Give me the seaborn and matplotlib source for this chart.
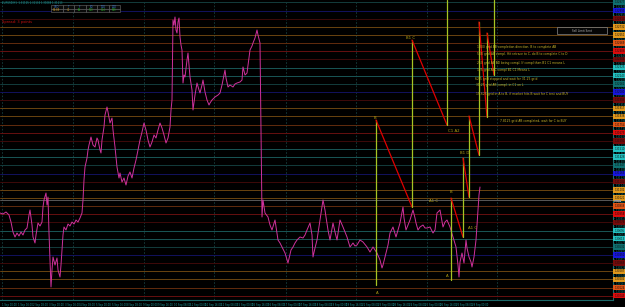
import numpy as np
import matplotlib
matplotlib.use("Agg")
import matplotlib.pyplot as plt
import seaborn as sns
from matplotlib.transforms import blended_transform_factory
from matplotlib.patches import Rectangle

# ---------------- data ----------------
bars = [0, 3, 6, 9, 11, 13, 15, 17, 19, 21, 23, 25, 27, 29, 30, 32, 33, 35, 36, 38, 40, 42, 43, 44, 46, 47, 48, 49,
        50, 51, 52, 53, 55, 57, 58, 60, 61, 62, 63, 64, 66, 68, 70, 72, 74, 76, 78, 80, 82, 83, 84, 85, 87, 88, 89,
        91, 93, 95, 97, 98, 100, 101, 102, 104, 105, 107, 108, 110, 112, 113, 115, 117, 119, 120,
        122, 124, 126, 128, 130, 132, 134, 136, 138, 140, 142, 144, 146, 148, 150, 152, 154, 156, 158, 160, 162,
        164, 166, 168, 170, 171, 172,
        173, 174, 175, 176, 177, 178, 179, 180, 181, 182, 183, 184, 185, 187, 188, 189, 190, 192, 193, 195, 197,
        199, 200, 202, 203, 205, 207, 209, 210, 212, 215, 218, 220, 222, 224, 225, 226, 228, 230, 233, 235, 237,
        240, 242, 243, 245, 247, 249, 250, 252, 253, 255, 257, 258, 260, 261, 262,
        263, 265, 268, 270, 272, 275, 278, 280, 282, 285, 288, 291, 293, 295, 297, 300, 303, 305, 307, 310, 312,
        313, 315, 317, 320, 323, 325, 326, 328, 330, 333, 335, 337, 340, 343, 345, 347, 350, 353, 355, 357, 360,
        363, 367, 370, 373, 377, 380, 382, 383, 386, 388, 390, 393, 396, 398, 400, 402, 403, 404, 406, 408, 410,
        413, 415, 416, 418, 420, 423, 425, 427, 430, 433, 435, 437, 440, 443, 445, 447, 450, 453, 456, 458, 459,
        460, 462, 464, 466, 467, 469, 471, 472, 474, 476, 478, 479, 480]
close = [1.3087, 1.3086, 1.3088, 1.3085, 1.3078, 1.3068, 1.3063, 1.3067, 1.3064, 1.3068, 1.3065, 1.3070, 1.3072,
         1.3085, 1.3090, 1.3075, 1.3063, 1.3057, 1.3065, 1.3077, 1.3074, 1.3078, 1.3093, 1.3100, 1.3107, 1.3095,
         1.3103, 1.3067,
         1.3040, 1.3013, 1.3030, 1.3043, 1.3035, 1.3042, 1.3030, 1.3023, 1.3035, 1.3050, 1.3065, 1.3073, 1.3070,
         1.3076, 1.3074, 1.3078, 1.3076, 1.3080, 1.3078, 1.3082, 1.3087, 1.3100, 1.3120, 1.3133, 1.3142, 1.3150,
         1.3155, 1.3163, 1.3155, 1.3153, 1.3162, 1.3160, 1.3150, 1.3147, 1.3160, 1.3173, 1.3185, 1.3193, 1.3188,
         1.3177, 1.3182, 1.3170, 1.3153, 1.3133, 1.3122, 1.3127,
         1.3118, 1.3122, 1.3115, 1.3124, 1.3128, 1.3122, 1.3132, 1.3140, 1.3150, 1.3160, 1.3168, 1.3177, 1.3170,
         1.3160, 1.3153, 1.3158, 1.3165, 1.3162, 1.3170, 1.3177, 1.3172, 1.3165, 1.3157, 1.3162, 1.3173, 1.3190,
         1.3200,
         1.3280, 1.3275, 1.3283, 1.3270, 1.3267, 1.3278, 1.3282, 1.3263, 1.3255, 1.3250, 1.3217, 1.3225, 1.3223,
         1.3240, 1.3247, 1.3235, 1.3223, 1.3210, 1.3190, 1.3205, 1.3217, 1.3210, 1.3207, 1.3215, 1.3220, 1.3208,
         1.3200, 1.3195, 1.3197, 1.3200, 1.3203, 1.3205, 1.3207, 1.3215, 1.3225, 1.3230, 1.3222, 1.3213, 1.3215,
         1.3213, 1.3216, 1.3217, 1.3218, 1.3220, 1.3233, 1.3225, 1.3227, 1.3242, 1.3250, 1.3254, 1.3257, 1.3262,
         1.3270, 1.3265, 1.3257, 1.3170, 1.3083,
         1.3100, 1.3087, 1.3083, 1.3075, 1.3070, 1.3080, 1.3060, 1.3057, 1.3053, 1.3047, 1.3037, 1.3050, 1.3053,
         1.3057, 1.3060, 1.3063, 1.3062, 1.3065, 1.3070, 1.3077, 1.3065, 1.3043, 1.3052, 1.3060, 1.3080, 1.3100,
         1.3090, 1.3083, 1.3070, 1.3060, 1.3077, 1.3068, 1.3060, 1.3080, 1.3073, 1.3068, 1.3063, 1.3053, 1.3057,
         1.3054, 1.3055, 1.3060, 1.3058, 1.3053, 1.3048, 1.3053, 1.3047, 1.3040, 1.3032, 1.3035, 1.3047, 1.3055,
         1.3067, 1.3073, 1.3063, 1.3070, 1.3077, 1.3088, 1.3093, 1.3082, 1.3070, 1.3075, 1.3080, 1.3090, 1.3082,
         1.3077, 1.3070, 1.3073, 1.3075, 1.3072, 1.3072, 1.3073, 1.3067, 1.3070, 1.3087, 1.3090, 1.3073, 1.3078,
         1.3080, 1.3073, 1.3063, 1.3053, 1.3035, 1.3023, 1.3038, 1.3047, 1.3037, 1.3060, 1.3052, 1.3043, 1.3038,
         1.3033, 1.3043, 1.3060, 1.3090, 1.3105, 1.3113]

level_prices = [1.32977, 1.32895, 1.32814, 1.32732, 1.32651, 1.32569, 1.32488, 1.32406, 1.32325, 1.32243,
                1.32162, 1.32080, 1.31999, 1.31917, 1.31836, 1.31754, 1.31673, 1.31591, 1.31510, 1.31428,
                1.31347, 1.31265, 1.31184, 1.31102, 1.31021, 1.30939, 1.30858, 1.30776, 1.30695, 1.30613,
                1.30532, 1.30450, 1.30369, 1.30287, 1.30206, 1.30124, 1.30043]
level_kinds = (["darkteal", "blue", "darkred", "orange", "orange", "redorange", "red", "darkred", "teal", "teal"] * 4)[:37]
grey_level = 1.3100

wave1_bars = [376, 376, 412, 412, 447, 447]
wave1_prices = [1.3015, 1.3180, 1.3093, 1.3260, 1.3175, 1.3300]
wave2_bars = [451, 451, 463, 463, 469, 469, 479, 479, 487, 487, 494, 494]
wave2_prices = [1.3020, 1.3102, 1.3063, 1.3142, 1.3103, 1.3184, 1.3145, 1.3278, 1.3183, 1.3267, 1.3225, 1.3300]

wave_labels = ["B", "A", "A1 C", "B1 C", "C1 A2", "B", "A", "A1 C", "B1 D"]
wave_label_bars = [374, 376, 429, 406, 448, 450, 446, 468, 460]
wave_label_prices = [1.3182, 1.3007, 1.3099, 1.3262, 1.3169, 1.3108, 1.3024, 1.3072, 1.3147]

notes = ["1000 grid AB completion direction, B to complete AB",
         "500 grid AB compl. Hit retrace to C, do B to complete C to D",
         "250 grid AB BD being compl. If compl than B1 C1 means L",
         "125 grid ABC compl B1 C1 Means L",
         "62.5 grid stopped and wait for 31.25 grid",
         "31.25 grid AB compl. in C1 on L",
         "15.625 grid in A to B, if market hits B wait for C test and BUY",
         "7.8125 grid AB completed, wait for C to BUY"]
note_bars = [477, 477, 477, 477, 475, 476, 476, 500]
note_prices = [1.3253, 1.3246, 1.3237, 1.3230, 1.3221, 1.3215, 1.3206, 1.3179]

vgrid_bars = [2, 73, 144, 214, 286, 356, 427, 497]
date_labels = ["1 Sep 00:00", "1 Sep 16:00", "2 Sep 08:00", "3 Sep 00:00", "3 Sep 16:00", "4 Sep 08:00",
               "5 Sep 00:00", "5 Sep 16:00", "8 Sep 08:00", "9 Sep 00:00", "9 Sep 16:00", "10 Sep 08:00",
               "11 Sep 00:00", "11 Sep 16:00", "12 Sep 08:00", "15 Sep 00:00", "15 Sep 16:00", "16 Sep 08:00",
               "17 Sep 00:00", "17 Sep 16:00", "18 Sep 08:00", "19 Sep 00:00", "19 Sep 16:00", "22 Sep 08:00",
               "23 Sep 00:00", "23 Sep 16:00", "24 Sep 08:00", "25 Sep 00:00", "25 Sep 16:00", "26 Sep 08:00",
               "29 Sep 00:00"]

table_head = ["USD", "T", "F", "5D", "10D", "20D"]
table_vals = ["83.88", "41", "68", "100", "114", "999"]

# ---------------- style ----------------
line_col = {"darkteal": "#133c3c", "blue": "#12125e", "darkred": "#3e0a0a", "orange": "#6a4410",
            "redorange": "#622c0e", "red": "#661010", "teal": "#195656"}
box_col = {"darkteal": "#0e7070", "blue": "#1616dc", "darkred": "#760a0a", "orange": "#e0981c",
           "redorange": "#e05414", "red": "#dc0c0c", "teal": "#22c0c0"}

sns.set_theme(style="dark", rc={"axes.facecolor": "black", "figure.facecolor": "black",
                                "savefig.facecolor": "black"})
plt.rcParams["font.family"] = ["DejaVu Sans"]

W, H = 625, 307
fig = plt.figure(figsize=(W / 100, H / 100), dpi=100)
ax = fig.add_axes([0, 7 / H, 613 / W, 300 / H])
ax.set_facecolor("black")
ax.set_xlim(0, 613)
ax.set_ylim(1.3000, 1.3300)

for b in vgrid_bars:
    ax.axvline(b, color="#174040", lw=0.6, ls=(0, (2, 2)), zorder=1)
for p, k in zip(level_prices, level_kinds):
    ax.axhline(p, color=line_col[k], lw=0.7, zorder=1)
ax.axhline(grey_level, color="#585858", lw=0.7, zorder=1)

sns.lineplot(x=bars, y=close, ax=ax, color="#cf329c", lw=0.7, estimator=None, sort=False, zorder=3)

def draw_wave(xs, ys):
    for i in range(len(xs) - 1):
        c = "#a6c423" if xs[i] == xs[i + 1] else "#e00000"
        ax.plot(xs[i:i + 2], ys[i:i + 2], color=c, lw=0.9, zorder=4)

draw_wave(wave1_bars, wave1_prices)
draw_wave(wave2_bars, wave2_prices)

for t, b, p in zip(wave_labels, wave_label_bars, wave_label_prices):
    ax.text(b, p, t, color="#b4a214", fontsize=2.8, ha="left", va="center", zorder=5)
for t, b, p in zip(notes, note_bars, note_prices):
    ax.text(b, p, t, color="#c8b42a", fontsize=2.2, ha="left", va="center", zorder=5)

# right price scale
ax.yaxis.tick_right()
mids = [(level_prices[i] + level_prices[i + 1]) / 2 for i in range(len(level_prices) - 1)]
ax.set_yticks(mids)
ax.set_yticklabels([f"{m:.5f}" for m in mids], fontsize=1.8, color="#1d8a8a")
ax.tick_params(axis="y", length=1, width=0.4, color="#1d8a8a", pad=1)
tr = blended_transform_factory(ax.transAxes, ax.transData)
for p, k in zip(level_prices, level_kinds):
    ax.text(1.002, p, f"{p:.5f}", transform=tr, fontsize=1.8, color="#101010", ha="left", va="center",
            bbox=dict(boxstyle="square,pad=0.3", fc=box_col[k], ec="none"), clip_on=False, zorder=6)
ax.text(1.002, grey_level - 0.00012, f"{grey_level:.4f}", transform=tr, fontsize=1.4, color="#101010",
        ha="left", va="center", bbox=dict(boxstyle="square,pad=0.2", fc="#9a9a9a", ec="none"),
        clip_on=False, zorder=7)

# date axis
xt = [2 + 15.65 * i for i in range(len(date_labels))]
ax.set_xticks(xt)
ax.set_xticklabels(date_labels, fontsize=1.8, color="#1d9a9a", ha="left")
ax.tick_params(axis="x", length=1, width=0.4, color="#1d8a8a", pad=1)
ax.grid(False)
for s in ["top", "left"]:
    ax.spines[s].set_visible(False)
for s in ["right", "bottom"]:
    ax.spines[s].set_color("#1d6a6a")
    ax.spines[s].set_linewidth(0.8)

# header items
fig.text(2 / W, 1 - 2.5 / H, "EURUSD,H1  1.31125 1.31134 1.31088 1.31113", color="#1d9a9a", fontsize=1.8,
         va="center", ha="left")
fig.text(2 / W, 1 - 22 / H, "Spread: 3 points", color="#cc1010", fontsize=2.6, va="center", ha="left")

cw, ch, x0, y0 = 11.5, 3.6, 51, 5
for i, (hd, vl) in enumerate(zip(table_head, table_vals)):
    for j, (txt, col) in enumerate([(hd, "#3a7ad0"), (vl, "#d09a20" if i < 2 else "#20b020")]):
        rx, ry = (x0 + i * cw) / W, 1 - (y0 + (j + 1) * ch) / H
        fig.add_artist(Rectangle((rx, ry), cw / W, ch / H, transform=fig.transFigure, fc="#0a0a0a",
                                 ec="#6a6a6a", lw=0.4))
        fig.text(rx + cw / W / 2, ry + ch / H / 2, txt, color=col, fontsize=1.8, ha="center", va="center")

fig.add_artist(Rectangle((557 / W, 1 - 34 / H), 50 / W, 7 / H, transform=fig.transFigure, fc="#050505",
                         ec="#8a8a8a", lw=0.5))
fig.text(582 / W, 1 - 30.5 / H, "Sell Limit Sent", color="#b0b0b0", fontsize=2.0, ha="center", va="center")

fig.savefig("out.png", dpi=100, facecolor="black")
